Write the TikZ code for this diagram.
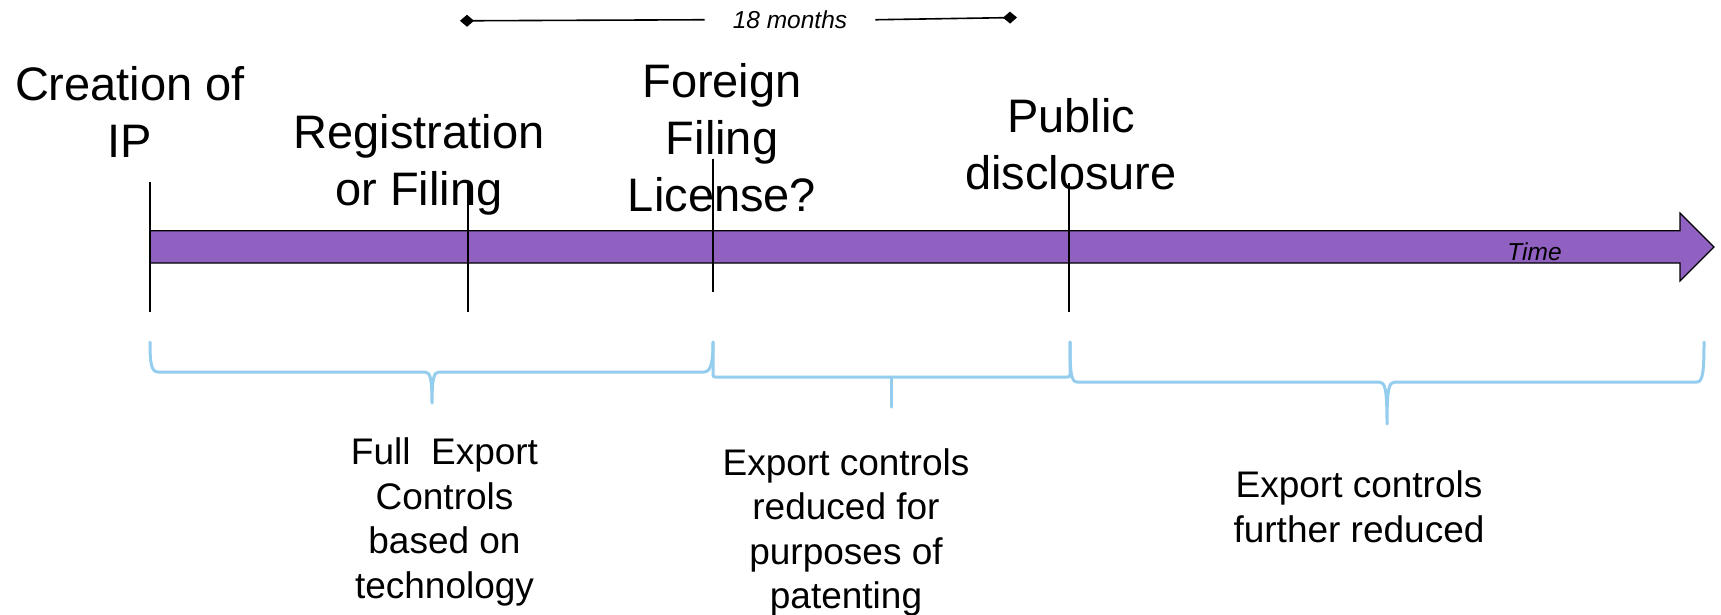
\documentclass[tikz,border=0pt]{standalone}
\usepackage{fontspec}
\setmainfont{Liberation Sans}
\usetikzlibrary{arrows.meta}
\definecolor{arrowpurple}{RGB}{144,97,192}
\definecolor{braceblue}{RGB}{148,205,237}
\begin{document}
\begin{tikzpicture}[x=1pt,y=-1pt,
  big/.style={font=\fontsize{47}{57}\selectfont, align=center, anchor=base, inner sep=0pt},
  small/.style={font=\fontsize{37}{44.5}\selectfont, align=center, anchor=base, inner sep=0pt},
  tick/.style={line width=1.6pt, black},
  brace/.style={line width=3pt, braceblue, line cap=round, line join=round},
  note/.style={font=\fontsize{24.5}{29}\selectfont\itshape, inner ysep=0pt, anchor=base},
  span/.style={line width=1.6pt, black}]
\useasboundingbox (0,0) rectangle (1721,614);

% time arrow
\draw[fill=arrowpurple, line width=1.2pt, line join=miter]
  (150,230.7) -- (1680,230.7) -- (1680,213) -- (1714,247) -- (1680,281)
  -- (1680,263) -- (150,263) -- cycle;
\node[note, inner xsep=0pt] (time) at (1534.5,260) {Time};

% event ticks
\coordinate (c1t) at (150,182);  \coordinate (c1b) at (150,312);
\coordinate (c2t) at (468,183);  \coordinate (c2b) at (468,312);
\coordinate (c3t) at (713,159);  \coordinate (c3b) at (713,292);
\coordinate (c4t) at (1069,183); \coordinate (c4b) at (1069,312);
\draw[tick] (c1t) -- (c1b);
\draw[tick] (c2t) -- (c2b);
\draw[tick] (c3t) -- (c3b);
\draw[tick] (c4t) -- (c4b);

% event labels (anchor = baseline of last line)
\node[big] (creation) at (130,157) {Creation of\\IP};
\node[big] (registration) at (419,205) {Registration\\or Filing};
\node[big] (foreign) at (722,211) {Foreign\\Filing\\License?};
\node[big] (public) at (1071,189) {Public\\disclosure};

% 18 months span
\coordinate (mL) at (460,20.8);
\coordinate (mR) at (1017,17.5);
\node[note, inner xsep=28pt] (months) at (790,28.5) {18 months};
\draw[span, {Diamond[length=14pt,width=12pt]}-] (mL) -- (months.west);
\draw[span, -{Diamond[length=14pt,width=12pt]}] (months.east) -- (mR);

% braces
\draw[brace] (150,342) .. controls (150,362) and (151,372) .. (158,372)
  -- (425,372) .. controls (430,372) and (432,378) .. (432,403)
  .. controls (432,378) and (434,372) .. (439,372)
  -- (704,372) .. controls (711,372) and (713,362) .. (713,342);
\draw[brace] (713,342) -- (713,374) .. controls (713,377) .. (716,377)
  -- (1067,377) .. controls (1070,377) .. (1070,374) -- (1070,342);
\draw[brace] (891,377) -- (891,407);
\draw[brace] (1070,342) .. controls (1070,372) and (1071,382) .. (1077,382)
  -- (1379,382) .. controls (1385,382) and (1387,388) .. (1387,424)
  .. controls (1387,388) and (1389,382) .. (1395,382)
  -- (1697,382) .. controls (1703,382) and (1704,370) .. (1704,342);

% period labels (anchor = baseline of last line)
\node[small] (full) at (444.5,598) {Full\ \ Export\\Controls\\based on\\technology};
\node[small] (reduced) at (846,608.5) {Export controls\\reduced for\\purposes of\\patenting};
\node[small] (further) at (1359,542) {Export controls\\further reduced};
\end{tikzpicture}
\end{document}
